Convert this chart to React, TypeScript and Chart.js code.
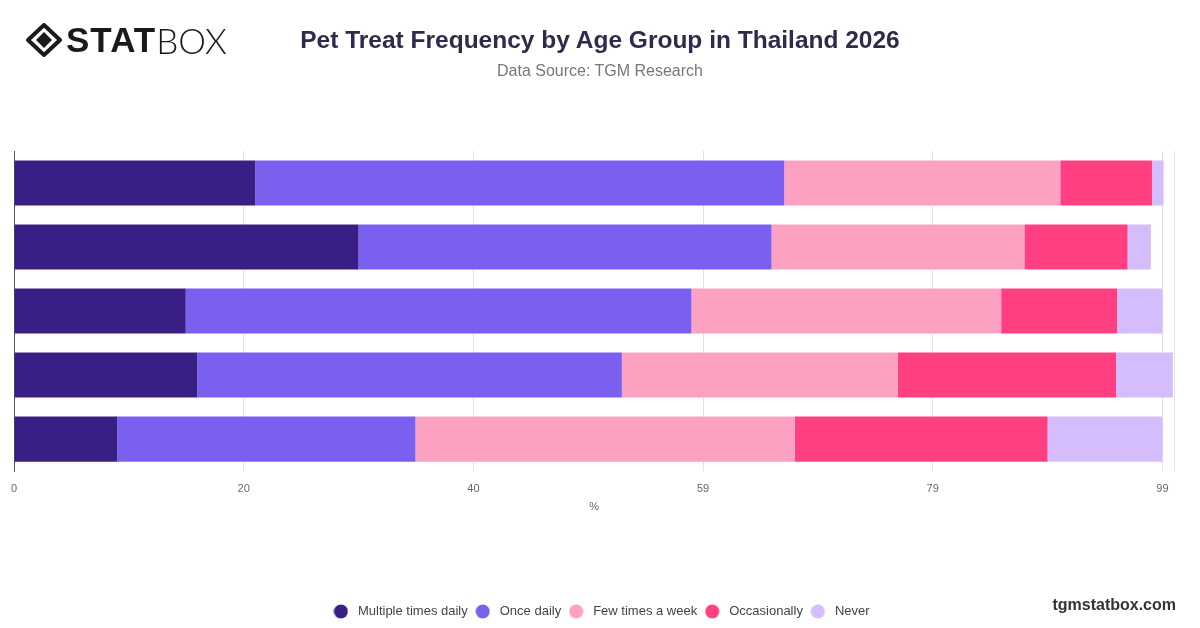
import React, { useEffect, useRef } from "react";
import { Chart, registerables } from "chart.js";

Chart.register(...registerables);

const CATEGORIES = ["18-24", "25-34", "35-44", "45-54", "55+"];
const SERIES_NAMES = ["Multiple times daily", "Once daily", "Few times a week", "Occasionally", "Never"];
const MULTIPLE_DAILY = [20.8, 29.7, 14.8, 15.8, 8.9];
const ONCE_DAILY = [45.6, 35.6, 43.6, 36.6, 25.7];
const FEW_WEEK = [23.8, 21.8, 26.7, 23.8, 32.7];
const OCCASIONALLY = [7.9, 8.9, 10.0, 18.8, 21.8];
const NEVER = [1.0, 2.0, 3.9, 4.9, 9.9];
const COLORS = ["#381e85", "#7b5fee", "#fca1c1", "#ff3f81", "#d5bcfa"];
const X_TICKS = [0, 19.8, 39.6, 59.4, 79.2, 99];
const X_MAX = 100;

const TITLE = "Pet Treat Frequency by Age Group in Thailand 2026";
const SUBTITLE = "Data Source: TGM Research";

const FONT = "'Liberation Sans', Arial, Helvetica, sans-serif";

function makeDot(color: string): HTMLCanvasElement {
  const c = document.createElement("canvas");
  c.width = 15;
  c.height = 15;
  const ctx = c.getContext("2d");
  if (ctx) {
    ctx.fillStyle = color;
    ctx.beginPath();
    ctx.arc(7.5, 7.5, 7, 0, Math.PI * 2);
    ctx.fill();
  }
  return c;
}

export default function App() {
  const ref = useRef<HTMLCanvasElement | null>(null);

  useEffect(() => {
    if (!ref.current) return;
    const seriesValues = [MULTIPLE_DAILY, ONCE_DAILY, FEW_WEEK, OCCASIONALLY, NEVER];
    const dots = COLORS.map(makeDot);
    const chart = new Chart(ref.current, {
      type: "bar",
      data: {
        labels: CATEGORIES,
        datasets: SERIES_NAMES.map((name, i) => ({
          label: name,
          data: seriesValues[i],
          backgroundColor: COLORS[i],
          borderWidth: 0,
          categoryPercentage: 0.8,
          barPercentage: 0.88,
        })),
      },
      options: {
        indexAxis: "y",
        animation: false,
        responsive: false,
        maintainAspectRatio: false,
        layout: { padding: { top: 151, left: 13, right: 13, bottom: 0 } },
        plugins: {
          title: { display: false },
          subtitle: { display: false },
          legend: {
            position: "bottom",
            labels: {
              usePointStyle: true,
              pointStyleWidth: 21,
              boxHeight: 10,
              color: "#444444",
              font: { family: FONT, size: 13 },
              padding: 4.5,
              generateLabels: (c: any) =>
                Chart.defaults.plugins.legend.labels
                  .generateLabels(c)
                  .map((l: any, i: number) => ({ ...l, pointStyle: dots[i] })),
            },
          },
          tooltip: { enabled: false },
        },
        scales: {
          x: {
            stacked: true,
            min: 0,
            max: X_MAX,
            afterBuildTicks: (scale: any) => {
              scale.ticks = [...X_TICKS, X_MAX].map((v) => ({ value: v }));
            },
            ticks: {
              autoSkip: false,
              color: "#666666",
              font: { family: FONT, size: 11 },
              padding: 11,
              callback: (v: any) => (Number(v) === X_MAX ? "" : String(Math.round(Number(v)))),
            },
            grid: { color: "#e2e2e2", drawTicks: false },
            border: { display: false },
            title: {
              display: true,
              text: "%",
              color: "#666666",
              font: { family: FONT, size: 11 },
              padding: { top: -6, bottom: 87 },
            },
          },
          y: {
            stacked: true,
            ticks: { display: false },
            grid: { display: false, drawTicks: false },
            border: { display: true, color: "#555555", width: 1 },
          },
          yRight: {
            type: "category",
            position: "right",
            ticks: { display: false },
            grid: { display: false, drawTicks: false },
            border: { display: false },
            afterFit: (s: any) => {
              s.width = 13;
            },
          },
        },
      },
    });
    return () => chart.destroy();
  }, []);

  return (
    <div style={{ position: "fixed", left: 0, top: 0, width: 1200, height: 628, background: "#ffffff", overflow: "hidden" }}>
      <canvas ref={ref} width={1200} height={628} style={{ position: "absolute", left: 0, top: 0, width: 1200, height: 628 }} />
      <div style={{ position: "absolute", left: 0, width: 1200, top: 24, textAlign: "center", fontFamily: FONT, fontWeight: "bold", fontSize: 24.5, lineHeight: "32px", color: "#2e2b4b" }}>
        {TITLE}
      </div>
      <div style={{ position: "absolute", left: 0, width: 1200, top: 61, textAlign: "center", fontFamily: FONT, fontSize: 16, lineHeight: "20px", color: "#777777" }}>
        {SUBTITLE}
      </div>
      <div style={{ position: "absolute", left: 26, top: 22, height: 36, display: "flex", alignItems: "center" }}>
        <svg width="36" height="34" viewBox="0 0 36 34" style={{ marginRight: 4 }}>
          <path d="M18 2 L34 17 L18 32 L2 17 Z" fill="none" stroke="#1a1a1a" strokeWidth="4" strokeLinejoin="round" />
          <path d="M18 9 L26 17 L18 25 L10 17 Z" fill="#1a1a1a" />
        </svg>
        <span style={{ fontFamily: FONT, fontWeight: 900, fontSize: 35, color: "#1a1a1a", letterSpacing: 1, lineHeight: "36px" }}>STAT</span>
        <span style={{ fontFamily: "Lato, 'Liberation Sans', sans-serif", fontWeight: 300, fontSize: 35, color: "#1a1a1a", lineHeight: "36px", marginLeft: 0 }}>BOX</span>
      </div>
      <div style={{ position: "absolute", right: 24, top: 596, fontFamily: FONT, fontWeight: "bold", fontSize: 16, color: "#333333" }}>
        tgmstatbox.com
      </div>
    </div>
  );
}
